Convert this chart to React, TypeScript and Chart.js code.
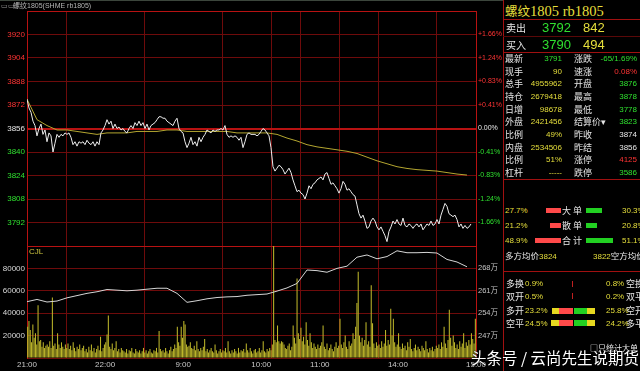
import React, { useEffect, useRef } from 'react';
import { Chart, registerables } from 'chart.js';

Chart.register(...registerables);

// ---------- data ----------
const PREV_SETTLE = 3856;
const PRICE_MIN = 3776;
const PRICE_MAX = 3936;
const PRICE_GRID_STEP = 16;
const SESSION_MINUTES = 345; // 21:00-23:00, 9:00-10:15, 10:30-11:30, 13:30-15:00
const PRICE_SAMPLE_MIN = 1.5367; // sampling interval of the price line (minutes)
const SLOW_SAMPLE_MIN = 7.684; // sampling interval of average price / open interest

const xTickMinutes = [0, 60, 120, 180, 195, 225, 255, 285, 345];
const xTickLabels = ['21:00', '22:00', '9:00', '10:00', '', '11:00', '', '14:00', '15:00'];
const volumeTickValues = [0, 20000, 40000, 60000, 80000, 100000];
const oiTickValues = [247, 254, 261, 268];

const priceValues = [
  3876, 3870, 3867, 3861, 3858, 3851, 3856, 3859, 3852, 3855,
  3847, 3853, 3851, 3840, 3846, 3852, 3850, 3852, 3851, 3853,
  3852, 3853, 3850, 3845, 3847, 3844, 3847, 3846, 3847, 3845,
  3848, 3846, 3845, 3847, 3844, 3847, 3845, 3853, 3855, 3858,
  3862, 3859, 3861, 3856, 3859, 3856, 3857, 3855, 3856, 3854,
  3853, 3856, 3858, 3856, 3860, 3858, 3861, 3858, 3860, 3856,
  3859, 3855, 3858, 3859, 3860, 3862, 3864, 3864, 3863, 3863,
  3861, 3860, 3859, 3858, 3861, 3863, 3856, 3854, 3853, 3847,
  3843, 3846, 3850, 3845, 3847, 3844, 3850, 3847, 3850, 3852,
  3855, 3854, 3853, 3855, 3854, 3855, 3855, 3856, 3855, 3858,
  3852, 3850, 3851, 3850, 3851, 3850, 3848, 3850, 3843, 3847,
  3852, 3853, 3852, 3852, 3852, 3851, 3852, 3854, 3856, 3855,
  3853, 3851, 3843, 3830, 3827, 3829, 3831, 3830, 3828, 3825,
  3827, 3829, 3826, 3821, 3817, 3813, 3814, 3812, 3811, 3808,
  3812, 3817, 3815, 3818, 3819, 3821, 3822, 3823, 3821, 3825,
  3826, 3822, 3818, 3819, 3817, 3815, 3812, 3815, 3820, 3818,
  3814, 3815, 3813, 3811, 3810, 3804, 3798, 3795, 3797, 3793,
  3788, 3789, 3793, 3795, 3793, 3789, 3787, 3789, 3786, 3783,
  3779, 3786, 3789, 3793, 3791, 3794, 3791, 3790, 3795, 3790,
  3789, 3791, 3790, 3788, 3790, 3791, 3789, 3791, 3787, 3789,
  3791, 3790, 3793, 3790, 3791, 3794, 3791, 3797, 3801, 3805,
  3803, 3798, 3797, 3796, 3797, 3794, 3789, 3791, 3788, 3790,
  3788, 3789, 3791,
];

const avgPriceValues = [
  3876, 3862, 3858, 3855, 3855, 3854, 3853, 3852, 3853, 3853,
  3853, 3854, 3854, 3854, 3855, 3855, 3854, 3854, 3854, 3854,
  3854, 3853, 3853, 3853, 3853, 3852, 3849.5, 3847.5, 3845, 3843.5,
  3842.5, 3841.5, 3840.5, 3839, 3836.5, 3834, 3832, 3830, 3828.8, 3828,
  3827.5, 3827, 3826, 3825, 3824.3,
];

const openInterestWan = [
  257.6, 258.3, 257.5, 257.8, 258.8, 259.5, 260.2, 260.7, 261.4, 261.2,
  261.0, 261.2, 261.5, 261.8, 261.8, 260.2, 257.4, 257.9, 258.5, 258.9,
  259.1, 259.2, 259.6, 259.8, 260.0, 260.9, 261.9, 263.3, 267.5, 267.3,
  266.8, 268.0, 268.7, 271.5, 272.2, 271.0, 271.7, 273.5, 272.9, 272.9,
  273.0, 272.8, 270.8, 270.0, 268.5,
];

const volumeThousands = [
  28, 33, 25, 14, 30, 18, 22, 12, 47, 15, 16, 10, 14, 9, 11,
  12, 10, 15, 9, 54, 11, 13, 8, 22, 12, 9, 14, 10, 8, 12,
  9, 13, 8, 11, 7, 14, 9, 6, 10, 8, 12, 7, 9, 11, 6,
  8, 5, 10, 7, 12, 6, 9, 5, 8, 11, 7, 19, 6, 9, 12,
  14, 21, 38, 10, 8, 13, 7, 9, 15, 6, 8, 5, 9, 7, 6,
  5, 8, 4, 7, 6, 9, 5, 4, 8, 6, 5, 7, 4, 6, 9,
  5, 7, 4, 6, 8, 5, 4, 7, 6, 9, 5, 24, 8, 6, 7,
  5, 9, 6, 4, 7, 10, 6, 8, 12, 9, 28, 14, 11, 28, 18,
  33, 30, 12, 10, 11, 14, 9, 8, 11, 7, 15, 8, 6, 9, 7,
  10, 17, 6, 8, 5, 7, 9, 6, 5, 12, 7, 4, 6, 8, 5,
  7, 6, 9, 5, 15, 6, 4, 7, 5, 8, 6, 4, 9, 5, 7,
  6, 8, 5, 13, 7, 5, 9, 6, 4, 7, 8, 5, 6, 9, 5,
  7, 15, 6, 5, 8, 6, 9, 7, 12, 100, 16, 14, 29, 15, 13,
  15, 14, 12, 9, 8, 11, 13, 7, 10, 29, 18, 13, 71, 22, 17,
  27, 15, 19, 12, 32, 16, 11, 22, 14, 9, 13, 10, 8, 12, 9,
  11, 14, 29, 10, 8, 13, 7, 9, 12, 8, 6, 10, 14, 9, 11,
  35, 12, 9, 14, 20, 10, 8, 15, 11, 13, 22, 17, 28, 49, 77,
  20, 14, 18, 11, 16, 32, 12, 15, 10, 65, 31, 13, 9, 14, 11,
  12, 9, 15, 10, 13, 25, 11, 16, 12, 44, 20, 35, 14, 10, 12,
  22, 10, 8, 13, 9, 11, 7, 14, 10, 17, 8, 6, 9, 12, 7,
  10, 8, 6, 11, 9, 7, 15, 8, 5, 9, 7, 10, 6, 8, 11,
  9, 12, 8, 14, 10, 28, 13, 9, 16, 43, 18, 11, 20, 14, 9,
  12, 8, 15, 10, 13, 22, 9, 14, 11, 16, 12, 22, 17, 13, 35,
];

// quote panel
const quoteLeftLabels = ['最新', '现手', '总手', '持仓', '日增', '外盘', '比例', '内盘', '比例', '杠杆'];
const quoteLeftValues = ['3791', '90', '4955962', '2679418', '98678', '2421456', '49%', '2534506', '51%', '-----'];
const quoteLeftColors = ['g', 'y', 'y', 'y', 'y', 'y', 'y', 'y', 'y', 'y'];
const quoteRightLabels = ['涨跌', '速涨', '开盘', '最高', '最低', '结算价▾', '昨收', '昨结', '涨停', '跌停'];
const quoteRightValues = ['-65/1.69%', '0.08%', '3876', '3878', '3778', '3823', '3874', '3856', '4125', '3586'];
const quoteRightColors = ['g', 'r', 'g', 'g', 'g', 'g', 'w', 'w', 'r', 'g'];

const orderLabels = ['大 单', '散 单', '合 计'];
const orderBuyPct = [27.7, 21.2, 48.9];
const orderSellPct = [30.3, 20.8, 51.1];

const flowLeftLabels = ['多换', '双开', '多开', '空平'];
const flowLeftPct = ['0.9%', '0.5%', '23.2%', '24.5%'];
const flowRightPct = ['0.8%', '0.2%', '25.8%', '24.2%'];
const flowRightLabels = ['空换', '双平', '空开', '多平'];

// ---------- styles ----------
const RED = '#ff3434';
const GREEN = '#2fe02f';
const WHITE = '#e6e6e6';
const YELLOW = '#e6df3c';
const GRID_DIM = '#6e0b0b';
const GRID_BRIGHT = '#b81212';
const SANS = "'Liberation Sans', 'Noto Sans CJK SC', sans-serif";
const CJK = "'Noto Sans CJK SC', sans-serif";
const COLORS: Record<string, string> = { g: GREEN, y: YELLOW, r: RED, w: WHITE };
const CANVAS_W = 512;
const PAD_RIGHT = CANVAS_W - 503;

type TP = {
  x: number; y: number; s: number; c: string; t: React.ReactNode;
  a?: 'l' | 'r' | 'c'; f?: string; w?: number;
};
function T({ x, y, s, c, t, a = 'l', f = SANS, w }: TP) {
  const h = Math.round(s * 1.4);
  const st: React.CSSProperties = {
    position: 'absolute', top: y - h / 2, height: h, lineHeight: `${h}px`,
    fontSize: s, color: c, fontFamily: f, whiteSpace: 'nowrap', fontWeight: w,
  };
  if (a === 'l') st.left = x;
  else if (a === 'r') { st.left = x - 300; st.width = 300; st.textAlign = 'right'; }
  else { st.left = x - 150; st.width = 300; st.textAlign = 'center'; }
  return <div style={st}>{t}</div>;
}

function Box({ x, y, w, h, c }: { x: number; y: number; w: number; h: number; c: string }) {
  return <div style={{ position: 'absolute', left: x, top: y, width: w, height: h, background: c }} />;
}

function pctLabel(v: number) {
  const p = ((v - PREV_SETTLE) / PREV_SETTLE) * 100;
  if (Math.abs(p) < 1e-9) return '0.00%';
  return (p > 0 ? '+' : '-') + Math.abs(p).toFixed(2) + '%';
}
function priceColor(v: number) {
  return v > PREV_SETTLE ? RED : v < PREV_SETTLE ? GREEN : WHITE;
}

function PriceVolumeChart() {
  const ref = useRef<HTMLCanvasElement | null>(null);
  useEffect(() => {
    if (!ref.current) return;
    const tickFont = { family: "'Liberation Sans', 'Noto Sans CJK SC', sans-serif", size: 8 };
    const chart = new Chart(ref.current, {
      type: 'line',
      data: {
        datasets: [
          {
            type: 'line', label: 'price',
            data: priceValues.map((v, i) => ({ x: i * PRICE_SAMPLE_MIN, y: v })),
            borderColor: '#ececec', borderWidth: 1, pointRadius: 0, yAxisID: 'y', xAxisID: 'x', order: 1,
          },
          {
            type: 'line', label: 'avg',
            data: avgPriceValues.map((v, i) => ({ x: i * SLOW_SAMPLE_MIN, y: v })),
            borderColor: '#b4a630', borderWidth: 1, pointRadius: 0, yAxisID: 'y', xAxisID: 'x', order: 2,
          },
          {
            type: 'line', label: 'oi',
            data: openInterestWan.map((v, i) => ({ x: i * SLOW_SAMPLE_MIN, y: v })),
            borderColor: '#d6d6d6', borderWidth: 1, pointRadius: 0, yAxisID: 'yo', xAxisID: 'x', order: 1,
          },
          {
            type: 'bar', label: 'vol',
            data: volumeThousands.map((v, i) => ({ x: i + 0.5, y: v * 1000 })),
            backgroundColor: '#bdb62a', yAxisID: 'yv', xAxisID: 'x',
            barPercentage: 1, categoryPercentage: 0.8, order: 3,
          } as any,
        ],
      },
      options: {
        responsive: false,
        animation: false,
        layout: { padding: { top: 11, left: 0, right: PAD_RIGHT, bottom: 0 } },
        plugins: { legend: { display: false }, tooltip: { enabled: false } },
        scales: {
          x: {
            type: 'linear', min: 0, max: SESSION_MINUTES, offset: false,
            afterBuildTicks: (s: any) => { s.ticks = xTickMinutes.map((v) => ({ value: v })); },
            afterFit: (s: any) => { s.height = 13; },
            ticks: {
              autoSkip: false, maxRotation: 0, padding: 2, color: '#c8c8c8', font: tickFont,
              callback: (v: any) => xTickLabels[xTickMinutes.indexOf(Number(v))] ?? '',
            },
            grid: { color: GRID_DIM, drawTicks: false },
            border: { color: GRID_DIM },
          },
          yv: {
            type: 'linear', position: 'left', stack: 'L', stackWeight: 112,
            min: 0, max: 100000,
            afterBuildTicks: (s: any) => { s.ticks = volumeTickValues.map((v) => ({ value: v })); },
            afterFit: (s: any) => { s.width = 27; },
            ticks: {
              autoSkip: false, padding: 2, color: '#d8d8d8', font: tickFont,
              callback: (v: any) => (v === 0 || v === 100000 ? '' : String(v)),
            },
            grid: {
              drawTicks: false,
              color: (c: any) => (c.tick && c.tick.value === 100000 ? GRID_BRIGHT : GRID_DIM),
            },
            border: { color: GRID_BRIGHT },
          },
          y: {
            type: 'linear', position: 'left', stack: 'L', stackWeight: 235,
            min: PRICE_MIN, max: PRICE_MAX,
            afterFit: (s: any) => { s.width = 27; },
            ticks: {
              autoSkip: false, stepSize: PRICE_GRID_STEP, padding: 2, font: tickFont,
              color: (c: any) => priceColor(c.tick.value),
              callback: (v: any) => (v === PRICE_MIN || v === PRICE_MAX ? '' : String(v)),
            },
            grid: {
              drawTicks: false,
              color: (c: any) => {
                const v = c.tick ? c.tick.value : 0;
                return v === PREV_SETTLE || v === PRICE_MIN || v === PRICE_MAX ? GRID_BRIGHT : GRID_DIM;
              },
              lineWidth: (c: any) => (c.tick && c.tick.value === PREV_SETTLE ? 2 : 1),
            },
            border: { color: GRID_BRIGHT },
          },
          yp: {
            type: 'linear', position: 'right', stack: 'R', stackWeight: 235,
            min: PRICE_MIN, max: PRICE_MAX,
            afterFit: (s: any) => { s.width = 27; },
            ticks: {
              autoSkip: false, stepSize: PRICE_GRID_STEP, padding: 2, font: { ...tickFont, size: 7 },
              color: (c: any) => priceColor(c.tick.value),
              callback: (v: any) => (v === PRICE_MIN || v === PRICE_MAX ? '' : pctLabel(Number(v))),
            },
            grid: { display: false, drawTicks: false },
            border: { color: GRID_BRIGHT },
          },
          yo: {
            type: 'linear', position: 'right', stack: 'R', stackWeight: 112,
            min: 240, max: 275,
            afterBuildTicks: (s: any) => { s.ticks = oiTickValues.map((v) => ({ value: v })); },
            afterFit: (s: any) => { s.width = 27; },
            ticks: { autoSkip: false, padding: 2, color: '#c4c4c4', font: { ...tickFont, size: 7.5 }, callback: (v: any) => `${v}万` },
            grid: { display: false, drawTicks: false },
            border: { color: GRID_BRIGHT },
          },
        } as any,
      },
    });
    return () => chart.destroy();
  }, []);
  return (
    <canvas ref={ref} width={CANVAS_W} height={371}
      style={{ position: 'absolute', left: 0, top: 0, width: CANVAS_W, height: 371 }} />
  );
}

function QuotePanel() {
  const rowY = [58, 71, 83.5, 96.5, 109, 121.5, 134, 147, 159.5, 172.5];
  const orderY = [210, 225.5, 240];
  const flowY = [283.5, 296, 310.5, 323];
  const line = '#a01010';
  return (
    <>
      <Box x={503} y={0} w={137} h={371} c={'#000'} />
      <Box x={503} y={0} w={1} h={371} c={line} />
      <Box x={503} y={19} w={137} h={1} c={line} />
      <Box x={503} y={36} w={137} h={1} c={'#5a0808'} />
      <Box x={503} y={52} w={137} h={1} c={line} />
      <Box x={503} y={179} w={137} h={1} c={line} />
      <Box x={503} y={271} w={137} h={1} c={line} />

      <div style={{ position: 'absolute', left: 505, top: 2, height: 18, lineHeight: '18px', whiteSpace: 'nowrap', color: YELLOW }}>
        <span style={{ fontFamily: CJK, fontSize: 12.5 }}>螺纹</span>
        <span style={{ fontFamily: "'Liberation Serif', serif", fontSize: 14.5 }}>1805 rb1805</span>
      </div>

      <T x={506} y={27.5} s={10} c={WHITE} t="卖出" f={CJK} />
      <T x={542} y={27.5} s={13} c={GREEN} t="3792" />
      <T x={583} y={27.5} s={13} c={YELLOW} t="842" />
      <T x={506} y={44.5} s={10} c={WHITE} t="买入" f={CJK} />
      <T x={542} y={44.5} s={13} c={GREEN} t="3790" />
      <T x={583} y={44.5} s={13} c={YELLOW} t="494" />

      {quoteLeftLabels.map((l, i) => (
        <React.Fragment key={'q' + i}>
          <T x={505} y={rowY[i]} s={9} c={WHITE} t={l} f={CJK} />
          <T x={562} y={rowY[i]} s={8} c={COLORS[quoteLeftColors[i]]} t={quoteLeftValues[i]} a="r" />
          <T x={574} y={rowY[i]} s={9} c={WHITE} t={quoteRightLabels[i]} f={CJK} />
          <T x={637} y={rowY[i]} s={8} c={COLORS[quoteRightColors[i]]} t={quoteRightValues[i]} a="r" />
        </React.Fragment>
      ))}

      {orderLabels.map((l, i) => {
        const bw = orderBuyPct[i] * 0.53;
        const sw = orderSellPct[i] * 0.53;
        return (
          <React.Fragment key={'o' + i}>
            <T x={505} y={orderY[i]} s={8} c={YELLOW} t={orderBuyPct[i].toFixed(1) + '%'} />
            <Box x={561 - bw} y={orderY[i] - 2.5} w={bw} h={5} c={'#ff4a4a'} />
            <T x={572} y={orderY[i]} s={9} c={WHITE} t={l} f={CJK} a="c" />
            <Box x={586} y={orderY[i] - 2.5} w={sw} h={5} c={'#22d022'} />
            <T x={622} y={orderY[i]} s={8} c={YELLOW} t={orderSellPct[i].toFixed(1) + '%'} />
          </React.Fragment>
        );
      })}
      <div style={{ position: 'absolute', left: 505, top: 249, height: 13, lineHeight: '13px', fontSize: 8.5, whiteSpace: 'nowrap' }}>
        <span style={{ fontFamily: CJK, color: WHITE }}>多方均价</span>
        <span style={{ fontFamily: SANS, color: YELLOW, fontSize: 8 }}>3824</span>
      </div>
      <div style={{ position: 'absolute', left: 593, top: 249, height: 13, lineHeight: '13px', fontSize: 8.5, whiteSpace: 'nowrap' }}>
        <span style={{ fontFamily: SANS, color: YELLOW, fontSize: 8 }}>3822</span>
        <span style={{ fontFamily: CJK, color: WHITE }}>空方均价</span>
      </div>

      {flowLeftLabels.map((l, i) => (
        <React.Fragment key={'f' + i}>
          <T x={506} y={flowY[i]} s={9} c={WHITE} t={l} f={CJK} />
          <T x={525} y={flowY[i]} s={8} c={YELLOW} t={flowLeftPct[i]} />
          <T x={606} y={flowY[i]} s={8} c={YELLOW} t={flowRightPct[i]} />
          <T x={626} y={flowY[i]} s={9} c={WHITE} t={flowRightLabels[i]} f={CJK} />
        </React.Fragment>
      ))}
      <Box x={572} y={280.5} w={1} h={6} c={'#c02020'} />
      <Box x={572} y={293} w={1} h={6} c={'#c02020'} />
      <Box x={552} y={307.5} w={7} h={6} c={'#e6d820'} />
      <Box x={559} y={307.5} w={14} h={6} c={'#ff4a4a'} />
      <Box x={574} y={307.5} w={13} h={6} c={'#22d022'} />
      <Box x={587} y={307.5} w={8} h={6} c={'#e6d820'} />
      <Box x={551} y={320} w={8} h={6} c={'#e6d820'} />
      <Box x={559} y={320} w={14} h={6} c={'#ff4a4a'} />
      <Box x={574} y={320} w={13} h={6} c={'#22d022'} />
      <Box x={587} y={320} w={8} h={6} c={'#e6d820'} />

      <T x={590} y={347} s={8} c={WHITE} t="□只统计大单" f={CJK} />
    </>
  );
}

export default function App() {
  return (
    <div style={{ position: 'fixed', left: 0, top: 0, width: 640, height: 371, background: '#000', overflow: 'hidden' }}>
      <PriceVolumeChart />
      <Box x={0} y={0} w={640} h={1} c={'#3c463c'} />
      <T x={1} y={6} s={7} c={'#9a9a9a'} t="▭▭" />
      <T x={13} y={6} s={7} c={'#b4b4b4'} t="螺纹1805(SHME rb1805)" />
      <T x={29} y={251.5} s={8} c={'#cfc640'} t="CJL" />
      <QuotePanel />
      <div style={{
        position: 'absolute', left: 471, top: 346, height: 22, lineHeight: '22px', fontSize: 15.5,
        fontFamily: CJK, color: '#ffffff', whiteSpace: 'nowrap', textShadow: '0 0 2px #000, 0 0 1px #000',
      }}>头条号 / 云尚先生说期货</div>
    </div>
  );
}
